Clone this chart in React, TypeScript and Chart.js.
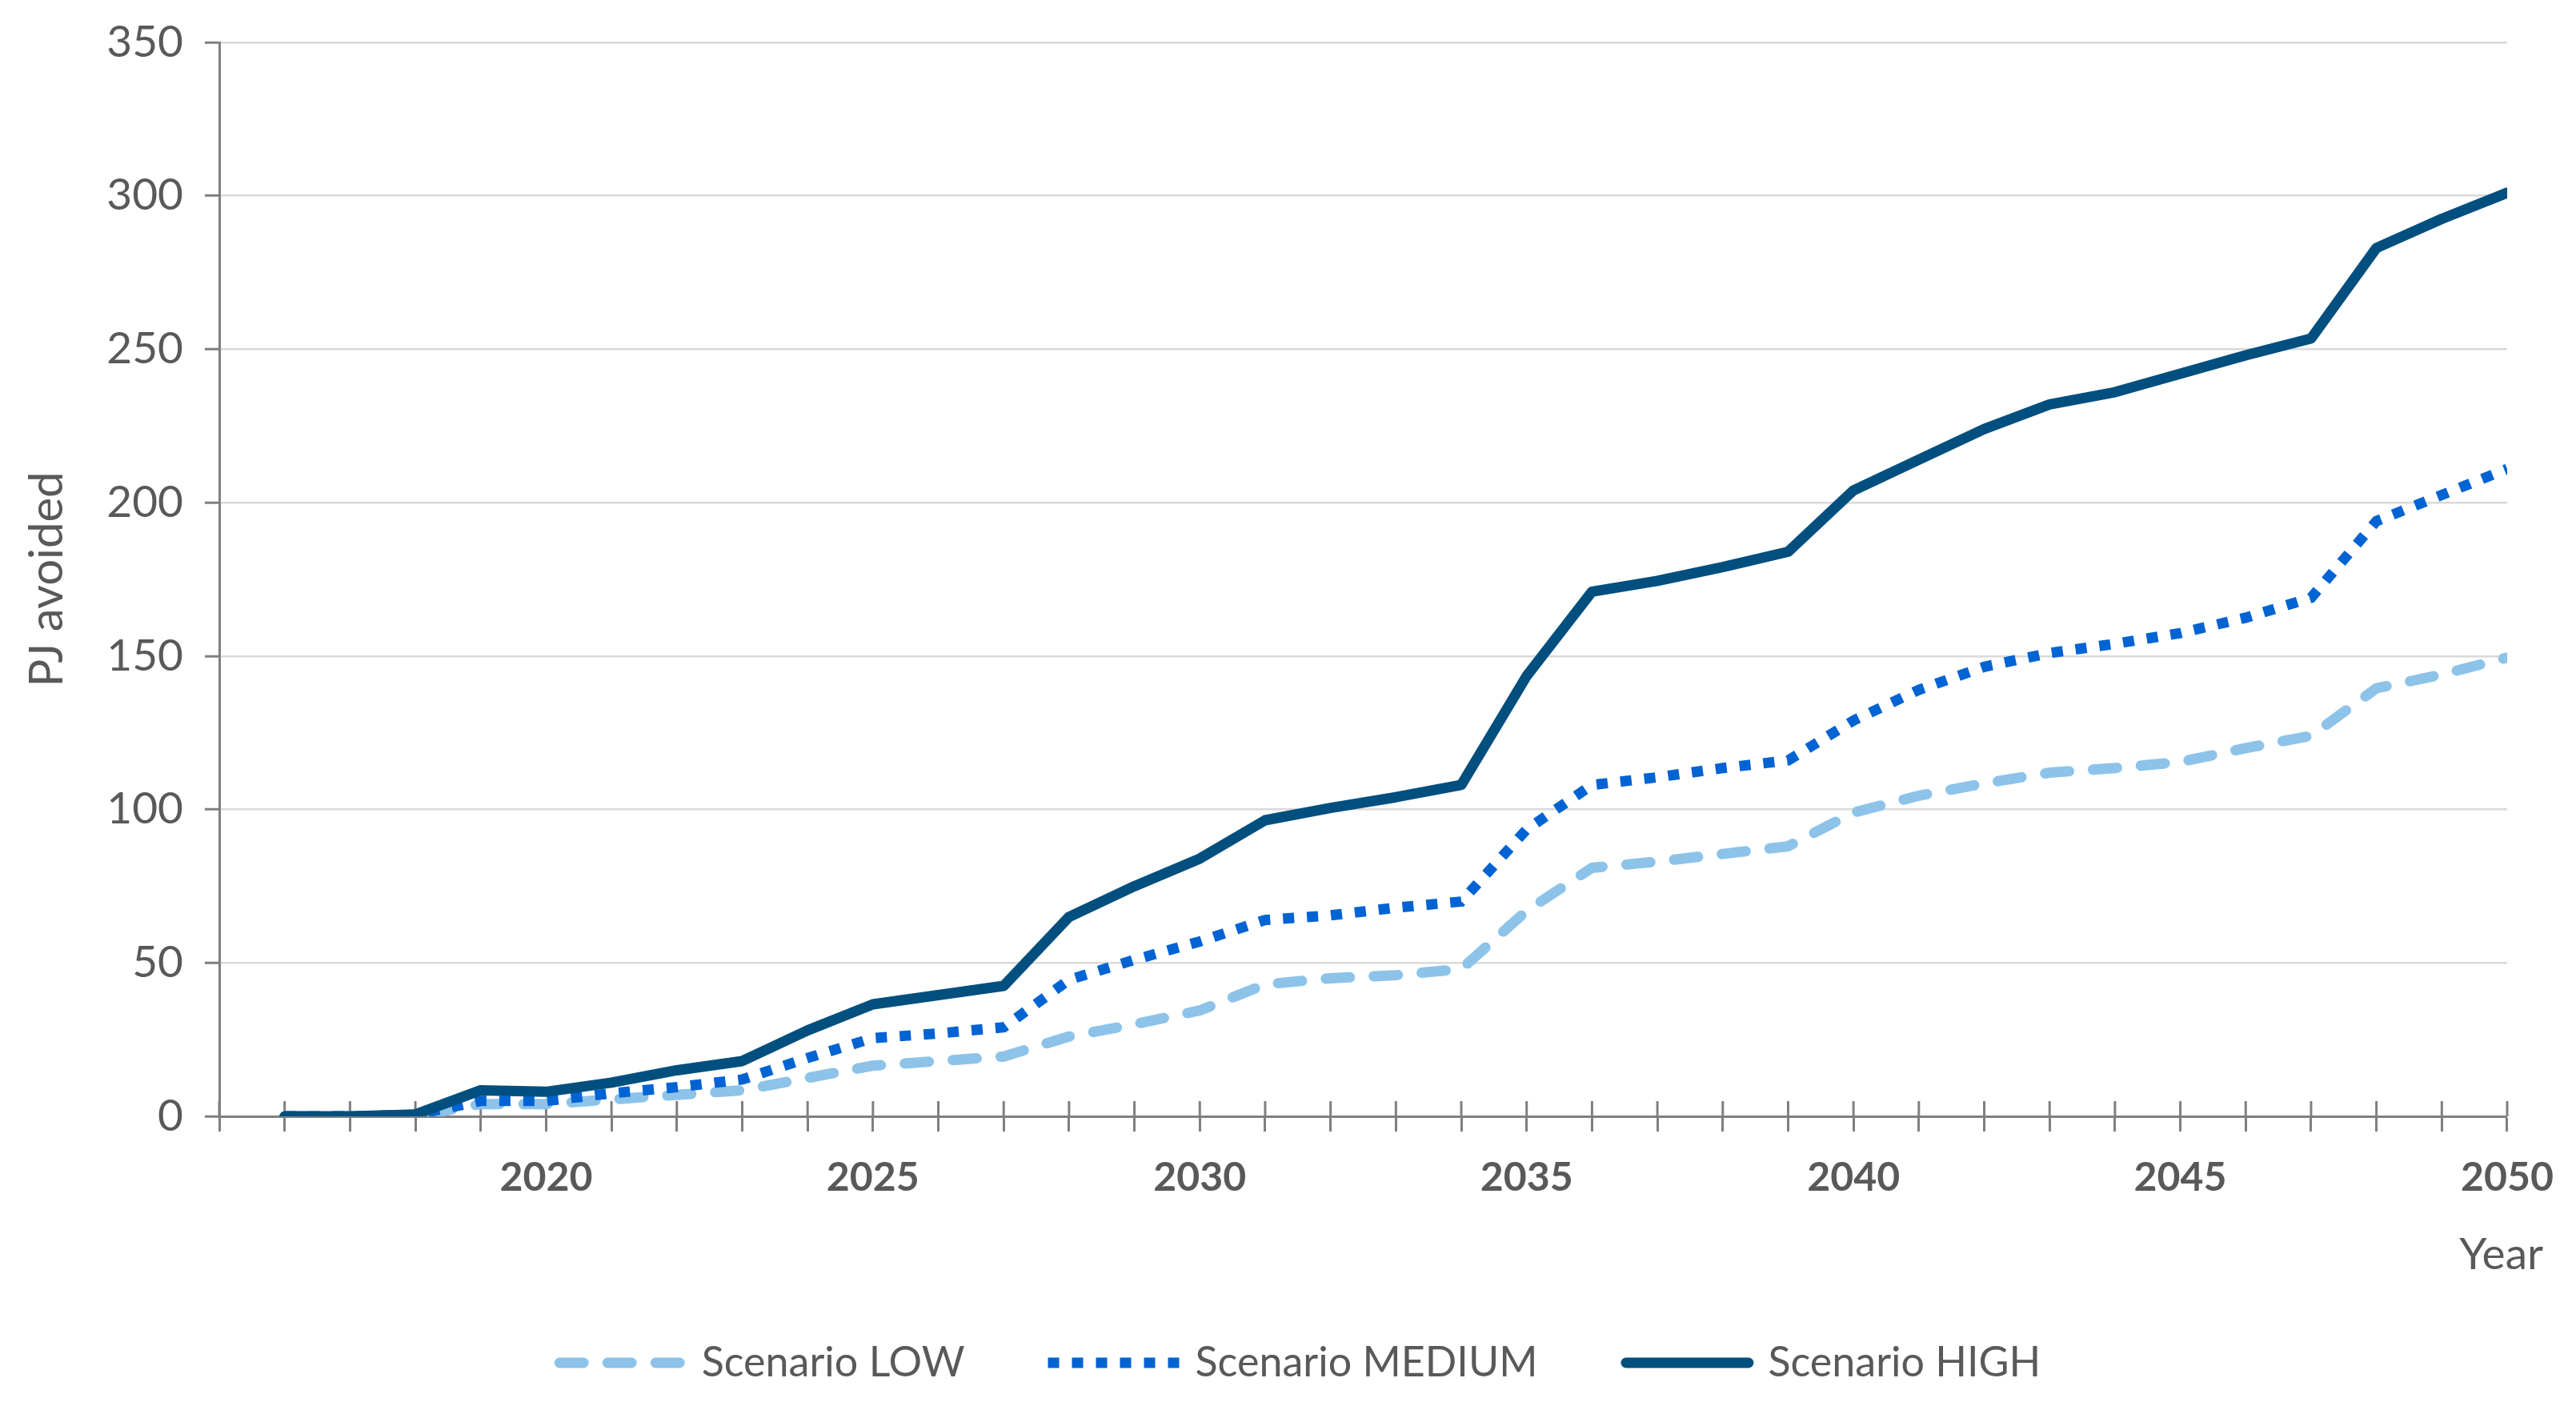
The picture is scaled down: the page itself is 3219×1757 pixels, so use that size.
import React, { useEffect, useRef } from 'react';
import { Chart, registerables } from 'chart.js';

Chart.register(...registerables);

// ---- data ----
const years = [
  2016, 2017, 2018, 2019, 2020, 2021, 2022, 2023, 2024, 2025,
  2026, 2027, 2028, 2029, 2030, 2031, 2032, 2033, 2034, 2035,
  2036, 2037, 2038, 2039, 2040, 2041, 2042, 2043, 2044, 2045,
  2046, 2047, 2048, 2049, 2050,
];

const scenarioLow = [
  0, 0, 0, 4, 4, 5.5, 7, 8.5, 12.5, 16.5,
  18, 19.5, 26, 30, 34.5, 43, 45, 46, 48, 67,
  81, 83, 85.5, 88, 99, 104.5, 108.5, 112, 113.5, 115.5,
  120, 124, 139.5, 144, 149.5,
];

const scenarioMedium = [
  0, 0, 0.5, 5, 5, 7.5, 9.5, 12, 19, 25.5,
  27, 29, 44.5, 51, 57, 64, 65.5, 68, 70, 93.5,
  108, 110.5, 113.5, 116, 129, 139, 146.5, 151, 154, 157.5,
  162.5, 169, 194, 202.5, 211,
];

const scenarioHigh = [
  0, 0, 0.6, 8.5, 8, 11, 15, 18, 28, 36.5,
  39.5, 42.5, 65, 75, 84, 96.5, 100.5, 104, 108, 143.5,
  171, 174.5, 179, 184, 204, 214, 224, 232, 236, 242,
  248, 253.5, 283, 292.5, 301,
];

const seriesLabels = ['Scenario LOW', 'Scenario MEDIUM', 'Scenario HIGH'];
const xMin = 2015;
const xMax = 2050;
const yMin = 0;
const yMax = 350;
const yStep = 50;
const yTitle = 'PJ avoided';
const xTitle = 'Year';

const W = 3219;
const H = 1757;
const FONT = 'Lato, "Open Sans", sans-serif';
const TEXT_COLOR = '#595959';
const AXIS_COLOR = '#7f7f7f';

const toPoints = (vals: number[]) => years.map((yr, i) => ({ x: yr, y: vals[i] }));

// draws the upward half of the crossing x-axis tick marks
const innerTicksPlugin = {
  id: 'innerTicks',
  beforeDatasetsDraw(chart: any) {
    const { ctx, chartArea, scales } = chart;
    const xs = scales.x;
    ctx.save();
    ctx.strokeStyle = AXIS_COLOR;
    ctx.lineWidth = 3;
    xs.ticks.forEach((t: any) => {
      const px = xs.getPixelForValue(t.value);
      ctx.beginPath();
      ctx.moveTo(px, chartArea.bottom - 19);
      ctx.lineTo(px, chartArea.bottom);
      ctx.stroke();
    });
    ctx.restore();
  },
};

const legendAndTitlePlugin = {
  id: 'legendAndTitle',
  afterDraw(chart: any) {
    const { ctx, chartArea, width } = chart;
    ctx.save();
    // x axis title "Year"
    ctx.font = `55px ${FONT}`;
    ctx.fillStyle = TEXT_COLOR;
    ctx.textAlign = 'right';
    ctx.textBaseline = 'middle';
    ctx.fillText(xTitle, chartArea.right + 45, chartArea.bottom + 173);

    // legend
    ctx.font = `52px ${FONT}`;
    const y = chartArea.bottom + 308;
    const lineLen = 166;
    const gap = 18;
    const itemGap = 104;
    const items = chart.data.datasets.map((ds: any) => ({
      ds,
      w: ctx.measureText(ds.label).width,
    }));
    const total =
      items.reduce((s: number, it: any) => s + lineLen + gap + it.w, 0) +
      itemGap * (items.length - 1);
    let x = (width - total) / 2 + 12;
    items.forEach(({ ds, w }: any) => {
      const bw = ds.borderWidth;
      const cap = ds.borderCapStyle || 'butt';
      const inset = cap === 'round' ? bw / 2 : 0;
      ctx.beginPath();
      ctx.strokeStyle = ds.borderColor;
      ctx.lineWidth = bw;
      ctx.lineCap = cap;
      ctx.setLineDash(ds.borderDash || []);
      ctx.moveTo(x + inset, y);
      ctx.lineTo(x + lineLen - inset, y);
      ctx.stroke();
      ctx.setLineDash([]);
      ctx.fillStyle = TEXT_COLOR;
      ctx.textAlign = 'left';
      ctx.fillText(ds.label, x + lineLen + gap, y);
      x += lineLen + gap + w + itemGap;
    });
    ctx.restore();
  },
};

export default function App() {
  const ref = useRef<HTMLCanvasElement | null>(null);

  useEffect(() => {
    document.body.style.margin = '0';
    document.body.style.overflow = 'hidden';
    const canvas = ref.current;
    if (!canvas) return;
    const chart = new Chart(canvas, {
      type: 'line',
      data: {
        datasets: [
          {
            label: seriesLabels[0],
            data: toPoints(scenarioLow),
            borderColor: '#8dc3e9',
            backgroundColor: '#8dc3e9',
            borderWidth: 13,
            borderDash: [30, 30],
            borderCapStyle: 'round',
            borderJoinStyle: 'round',
            pointRadius: 0,
            tension: 0,
            order: 2,
          },
          {
            label: seriesLabels[1],
            data: toPoints(scenarioMedium),
            borderColor: '#0063d3',
            backgroundColor: '#0063d3',
            borderWidth: 13,
            borderDash: [14, 16],
            borderCapStyle: 'butt',
            borderJoinStyle: 'miter',
            pointRadius: 0,
            tension: 0,
            order: 1,
          },
          {
            label: seriesLabels[2],
            data: toPoints(scenarioHigh),
            borderColor: '#004f7e',
            backgroundColor: '#004f7e',
            borderWidth: 13,
            borderCapStyle: 'round',
            borderJoinStyle: 'round',
            pointRadius: 0,
            tension: 0,
            order: 0,
          },
        ] as any,
      },
      options: {
        responsive: false,
        animation: false,
        devicePixelRatio: 1,
        layout: { padding: { top: 53, right: 80, bottom: 0, left: 0 } },
        plugins: {
          legend: { display: false },
          tooltip: { enabled: false },
          title: { display: false },
        },
        scales: {
          x: {
            type: 'linear',
            min: xMin,
            max: xMax,
            offset: false,
            afterFit: (s: any) => {
              s.height = H - 1395;
            },
            border: { display: true, color: AXIS_COLOR, width: 3 },
            grid: {
              display: true,
              drawOnChartArea: false,
              drawTicks: true,
              tickLength: 19,
              tickColor: AXIS_COLOR,
              tickWidth: 3,
              color: AXIS_COLOR,
            },
            ticks: {
              stepSize: 1,
              autoSkip: false,
              maxRotation: 0,
              minRotation: 0,
              padding: 28,
              color: TEXT_COLOR,
              font: { family: FONT, size: 50, weight: 'bold' },
              callback: (v: any) => {
                const n = Number(v);
                return n % 5 === 0 && n !== xMin ? String(n) : '';
              },
            },
          },
          y: {
            type: 'linear',
            min: yMin,
            max: yMax,
            afterFit: (s: any) => {
              s.width = 274;
              s.paddingTop = 0;
              s.paddingBottom = 0;
            },
            border: { display: true, color: AXIS_COLOR, width: 3 },
            grid: {
              color: '#d9d9d9',
              lineWidth: 2.5,
              drawTicks: true,
              tickLength: 18,
              tickColor: AXIS_COLOR,
              tickWidth: 3,
            },
            ticks: {
              stepSize: yStep,
              padding: 27,
              color: TEXT_COLOR,
              font: { family: FONT, size: 55 },
            },
            title: {
              display: true,
              text: yTitle,
              color: TEXT_COLOR,
              font: { family: FONT, size: 58 },
              padding: { top: 24, bottom: 0 },
            },
          },
        },
      } as any,
      plugins: [innerTicksPlugin, legendAndTitlePlugin],
    });
    return () => chart.destroy();
  }, []);

  return (
    <div style={{ position: 'fixed', left: 0, top: 0, width: W, height: H, background: '#fff' }}>
      <canvas ref={ref} width={W} height={H} style={{ width: W, height: H, display: 'block' }} />
    </div>
  );
}
